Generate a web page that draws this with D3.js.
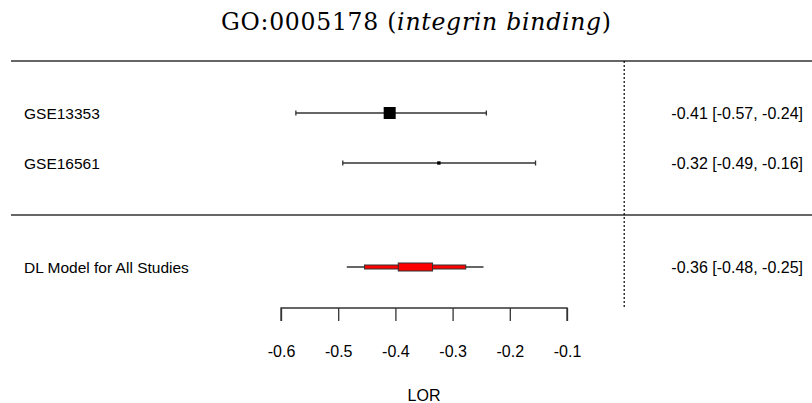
<!DOCTYPE html>
<html><head><meta charset="utf-8">
<script src="https://cdn.jsdelivr.net/npm/d3@7"></script>
<style>body{margin:0;background:#fff}</style>
</head><body>
<svg id="c" width="812" height="403"></svg>
<script>
const studies = ["GSE13353", "GSE16561"];
const estimates = [-0.41, -0.324];
const lowers = [-0.574, -0.492];
const uppers = [-0.241, -0.155];
const weights = [1.0, 0.08];
const ciLabels = ["-0.41 [-0.57, -0.24]", "-0.32 [-0.49, -0.16]"];
const summaryLabel = "DL Model for All Studies";
const summaryEst = [-0.395, -0.335];   // inner box
const summaryMid = [-0.454, -0.277];   // red bar
const summaryOuter = [-0.485, -0.246]; // whiskers
const summaryText = "-0.36 [-0.48, -0.25]";
const ticks = [-0.6, -0.5, -0.4, -0.3, -0.2, -0.1];

const svg = d3.select("#c");
const x = d3.scaleLinear().domain([-0.6, -0.1]).range([281, 567]);
const rowY = d3.scalePoint().domain(studies).range([113, 163]);
const sumY = 267;
const font = "Liberation Sans, Arial, sans-serif";

// title
const t = svg.append("text").attr("x", 416).attr("y", 30).attr("text-anchor", "middle")
  .attr("font-family", "DejaVu Serif, serif").attr("font-size", 23.5).attr("fill", "#000")
  .attr("textLength", 390).attr("lengthAdjust", "spacing");
t.append("tspan").text("GO:0005178 (");
t.append("tspan").attr("font-style", "italic").text("integrin binding");
t.append("tspan").text(")");

// horizontal rules
svg.append("line").attr("x1", 11).attr("x2", 812).attr("y1", 61).attr("y2", 61).attr("stroke", "#333").attr("stroke-width", 1.3);
svg.append("line").attr("x1", 11).attr("x2", 812).attr("y1", 215).attr("y2", 215).attr("stroke", "#333").attr("stroke-width", 1.3);

// zero line
svg.append("line").attr("x1", x(0)).attr("x2", x(0)).attr("y1", 61).attr("y2", 309)
  .attr("stroke", "#000").attr("stroke-width", 1.2).attr("stroke-dasharray", "2,2");

// study rows
studies.forEach((s, i) => {
  const y = rowY(s);
  svg.append("text").attr("x", 24).attr("y", y + 5.5).attr("font-family", font).attr("font-size", 15.5).attr("fill", "#000").text(s);
  svg.append("text").attr("x", 803).attr("y", y + 5.5).attr("text-anchor", "end").attr("font-family", font).attr("font-size", 16).attr("fill", "#000").text(ciLabels[i]);
  svg.append("line").attr("x1", x(lowers[i])).attr("x2", x(uppers[i])).attr("y1", y).attr("y2", y).attr("stroke", "#333").attr("stroke-width", 1.3);
  [lowers[i], uppers[i]].forEach(v => {
    svg.append("line").attr("x1", x(v)).attr("x2", x(v)).attr("y1", y - 2.5).attr("y2", y + 2.5).attr("stroke", "#333").attr("stroke-width", 1.3);
  });
  const sz = Math.max(3, 12 * Math.sqrt(weights[i]));
  svg.append("rect").attr("x", x(estimates[i]) - sz / 2).attr("y", y - sz / 2).attr("width", sz).attr("height", sz).attr("fill", "#000");
});

// summary row
svg.append("text").attr("x", 24).attr("y", sumY + 5.5).attr("font-family", font).attr("font-size", 15.5).attr("fill", "#000").text(summaryLabel);
svg.append("text").attr("x", 803).attr("y", sumY + 5.5).attr("text-anchor", "end").attr("font-family", font).attr("font-size", 16).attr("fill", "#000").text(summaryText);
svg.append("line").attr("x1", x(summaryOuter[0])).attr("x2", x(summaryOuter[1])).attr("y1", sumY).attr("y2", sumY).attr("stroke", "#333").attr("stroke-width", 1.3);
svg.append("rect").attr("x", x(summaryMid[0])).attr("y", sumY - 2).attr("width", x(summaryMid[1]) - x(summaryMid[0])).attr("height", 4)
  .attr("fill", "#ff0000").attr("stroke", "#333").attr("stroke-width", 1);
svg.append("rect").attr("x", x(summaryEst[0])).attr("y", sumY - 4).attr("width", x(summaryEst[1]) - x(summaryEst[0])).attr("height", 8)
  .attr("fill", "#ff0000").attr("stroke", "#333").attr("stroke-width", 1);

// axis
const ax = svg.append("g").attr("transform", "translate(0,308)")
  .call(d3.axisBottom(x).tickValues(ticks).tickFormat(d3.format(".1f")).tickSize(13).tickPadding(25));
ax.select(".domain").attr("stroke", "#333").attr("stroke-width", 1.3).attr("d", `M${x(-0.6)},13V0H${x(-0.1)}V13`);
ax.selectAll(".tick line").attr("stroke", "#333").attr("stroke-width", 1.3);
ax.selectAll(".tick text").attr("font-family", font).attr("font-size", 16).attr("fill", "#000");
ax.selectAll(".tick text").text(d => d3.format(".1f")(d).replace("−", "-"));

svg.append("text").attr("x", x(-0.35)).attr("y", 401).attr("text-anchor", "middle").attr("font-family", font).attr("font-size", 16).attr("fill", "#000").text("LOR");
</script>
</body></html>
